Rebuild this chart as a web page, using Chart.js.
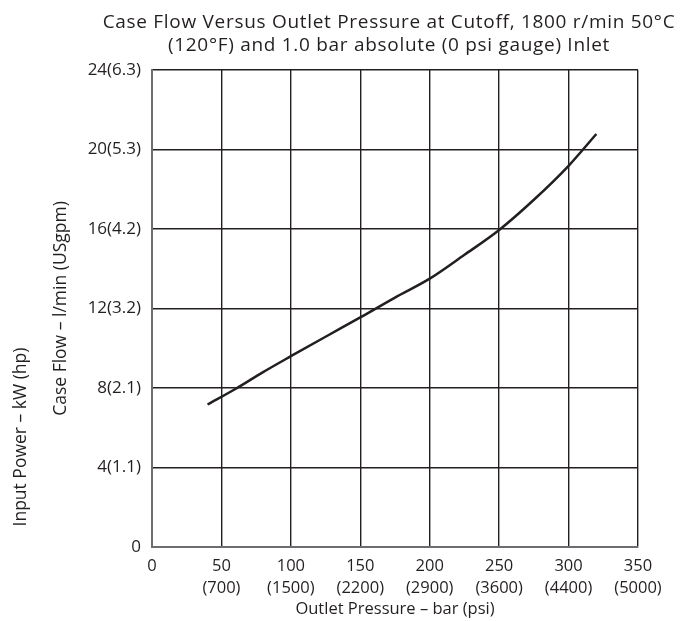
<!DOCTYPE html>
<html>
<head>
<meta charset="utf-8">
<script src="https://cdn.jsdelivr.net/npm/chart.js@4.4.0/dist/chart.umd.min.js"></script>
<style>
  html, body { margin: 0; padding: 0; background: #fff; }
  canvas { display: block; }
</style>
</head>
<body>
<canvas id="caseFlowChart" width="695" height="621"></canvas>
<script>
// Outlet pressure (bar) and case flow (l/min)
const pressureBar = [40, 60, 80, 100, 125, 150, 175, 200, 225, 250, 275, 300, 320];
const caseFlow = [7.17, 7.95, 8.8, 9.6, 10.58, 11.55, 12.55, 13.5, 14.7, 15.95, 17.47, 19.18, 20.78];

// Tick labels
const xTickBar = [0, 50, 100, 150, 200, 250, 300, 350];
const xTickPsi = ["", "(700)", "(1500)", "(2200)", "(2900)", "(3600)", "(4400)", "(5000)"];
const yTickFlow = [0, 4, 8, 12, 16, 20, 24];
const yTickGpm = ["", "(1.1)", "(2.1)", "(3.2)", "(4.2)", "(5.3)", "(6.3)"];

const titleLines = [
  "Case Flow Versus Outlet Pressure at Cutoff, 1800 r/min 50°C",
  "(120°F) and 1.0 bar absolute (0 psi gauge) Inlet",
];
const xAxisTitle = "Outlet Pressure – bar (psi)";
const yAxisTitle = "Case Flow – l/min (USgpm)";
const yAxisTitle2 = "Input Power – kW (hp)";

const FONT = "'Open Sans', 'DejaVu Sans', sans-serif";

// Plugin that draws the title and the axis titles
const textPlugin = {
  id: "textPlugin",
  afterDraw(chart) {
    const { ctx, chartArea } = chart;
    const cx = (chartArea.left + chartArea.right) / 2;
    const cy = (chartArea.top + chartArea.bottom) / 2;
    ctx.save();
    ctx.fillStyle = "#231f20";
    ctx.textAlign = "center";

    // Title, two lines (slightly spaced out like the original)
    ctx.textBaseline = "alphabetic";
    ctx.font = "19px " + FONT;
    ctx.letterSpacing = "0.7px";
    ctx.fillText(titleLines[0], cx - 6, 28);
    ctx.fillText(titleLines[1], cx - 6, 51);
    ctx.letterSpacing = "0px";

    // X axis title
    ctx.textBaseline = "middle";
    ctx.font = "16.5px " + FONT;
    ctx.fillText(xAxisTitle, cx, 609);

    // Y axis titles (rotated)
    ctx.font = "17.5px " + FONT;
    ctx.translate(61, cy);
    ctx.rotate(-Math.PI / 2);
    ctx.fillText(yAxisTitle, 0, 0);
    ctx.rotate(Math.PI / 2);
    ctx.translate(-61, -cy);

    ctx.translate(21, 437);
    ctx.rotate(-Math.PI / 2);
    ctx.fillText(yAxisTitle2, 0, 0);
    ctx.restore();
  },
};

const ctx = document.getElementById("caseFlowChart").getContext("2d");

const chart = new Chart(ctx, {
  type: "line",
  data: {
    datasets: [
      {
        data: pressureBar.map((x, i) => ({ x: x, y: caseFlow[i] })),
        borderColor: "#231f20",
        borderWidth: 2.5,
        pointRadius: 0,
        cubicInterpolationMode: "monotone",
        fill: false,
      },
    ],
  },
  options: {
    responsive: false,
    devicePixelRatio: 1,
    animation: false,
    layout: { padding: { left: 0, top: 70, right: 57, bottom: 0 } },
    plugins: {
      legend: { display: false },
      title: { display: false },
      tooltip: { enabled: false },
    },
    scales: {
      x: {
        type: "linear",
        min: 0,
        max: 350,
        afterFit: (scale) => { scale.height = 74; },
        afterBuildTicks: (scale) => {
          scale.ticks = xTickBar.map((v) => ({ value: v }));
        },
        ticks: {
          color: "#231f20",
          padding: 8,
          maxRotation: 0,
          autoSkip: false,
          font: { family: FONT, size: 16.5, lineHeight: 1.35 },
          callback: (value) => {
            const i = xTickBar.indexOf(value);
            return xTickPsi[i] ? [String(value), xTickPsi[i]] : String(value);
          },
        },
        grid: { color: "#231f20", lineWidth: 1.4, drawTicks: false },
        border: { color: "#6d6e71", width: 2 },
      },
      y: {
        type: "linear",
        min: 0,
        max: 24,
        afterFit: (scale) => { scale.width = 152; },
        afterBuildTicks: (scale) => {
          scale.ticks = yTickFlow.map((v) => ({ value: v }));
        },
        ticks: {
          color: "#231f20",
          padding: 11,
          font: { family: FONT, size: 17 },
          callback: (value) => {
            const i = yTickFlow.indexOf(value);
            return String(value) + yTickGpm[i];
          },
        },
        grid: { color: "#231f20", lineWidth: 1.4, drawTicks: false },
        border: { color: "#6d6e71", width: 2 },
      },
    },
  },
  plugins: [textPlugin],
});
</script>
</body>
</html>
